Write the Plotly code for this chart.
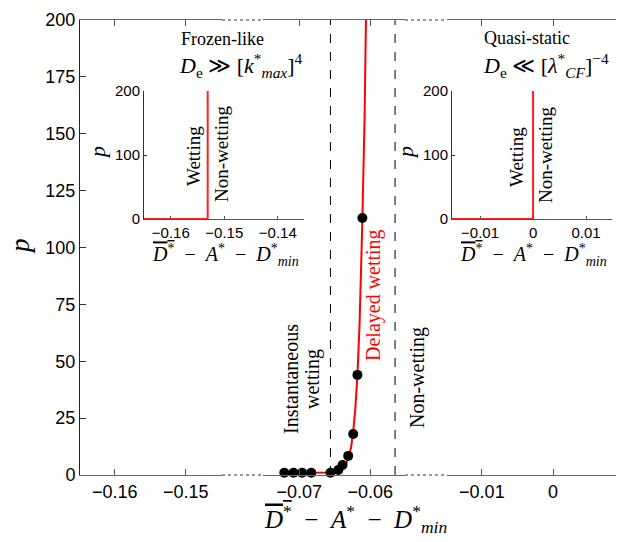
import plotly.graph_objects as go

# ---------------- data ----------------
dots_x = [-0.0721, -0.0708, -0.0696, -0.0683, -0.0656, -0.0645, -0.0639, -0.0631, -0.0624, -0.0618, -0.0611]
dots_p = [1, 1, 1, 1, 1, 2.2, 4.4, 8.4, 18, 44, 113]

curve_x = [-0.0723, -0.0700, -0.0680, -0.0660, -0.0648, -0.0642, -0.0638, -0.0635, -0.0631,
           -0.0627, -0.0624, -0.0621, -0.0618, -0.0615, -0.0611, -0.0608, -0.0606]
curve_p = [1, 1, 1, 1.1, 1.4, 1.8, 2.6, 4.2, 7.5, 12, 19, 29, 44, 66, 113, 156, 200]

boundary_instant = -0.0656
boundary_nonwet = -0.0565

frozen_x = [-0.165, -0.1531, -0.1531]
frozen_p = [0, 0, 200]
quasi_x = [-0.0153, 0.0, 0.0]
quasi_p = [0, 0, 200]

seg1_ticks = [-0.16, -0.15]
seg2_ticks = [-0.07, -0.06]
seg3_ticks = [-0.01, 0]
y_ticks = [0, 25, 50, 75, 100, 125, 150, 175, 200]
inset1_ticks = [-0.16, -0.15, -0.14]
inset2_ticks = [-0.01, 0, 0.01]
inset_y_ticks = [0, 100, 200]

# ---------------- geometry helpers (page pixel -> paper) ----------------
OFF = 8                      # default body margin of the page
L, R, T, B = 80, 622, 20, 475  # plot area in page pixels
W, H = 616, 534               # figure size


def px(x):
    return (x - L) / (R - L)


def py(y):
    return (B - y) / (B - T)


SANS = "Liberation Sans, Arial, sans-serif"
SERIF = "Liberation Serif, Times New Roman, serif"

fig = go.Figure()

# empty traces so that the outer segments are created
fig.add_trace(go.Scatter(x=[], y=[], xaxis="x", yaxis="y", showlegend=False))
fig.add_trace(go.Scatter(x=[], y=[], xaxis="x3", yaxis="y3", showlegend=False))

# main panel traces (middle segment)
fig.add_trace(go.Scatter(x=[boundary_instant, boundary_instant], y=[0, 200], mode="lines",
                         line=dict(color="black", width=1, dash="dash"), xaxis="x2", yaxis="y2",
                         showlegend=False, hoverinfo="skip"))
fig.add_trace(go.Scatter(x=[boundary_nonwet, boundary_nonwet], y=[0, 200], mode="lines",
                         line=dict(color="black", width=1, dash="dash"), xaxis="x2", yaxis="y2",
                         showlegend=False, hoverinfo="skip"))
fig.add_trace(go.Scatter(x=curve_x, y=curve_p, mode="lines", line=dict(color="#ff0000", width=2),
                         xaxis="x2", yaxis="y2", showlegend=False))
fig.add_trace(go.Scatter(x=dots_x, y=dots_p, mode="markers", marker=dict(color="black", size=10),
                         xaxis="x2", yaxis="y2", showlegend=False, cliponaxis=False))

# insets
fig.add_trace(go.Scatter(x=frozen_x, y=frozen_p, mode="lines", line=dict(color="#ff2020", width=2),
                         xaxis="x4", yaxis="y4", showlegend=False, cliponaxis=False))
fig.add_trace(go.Scatter(x=quasi_x, y=quasi_p, mode="lines", line=dict(color="#ff2020", width=2),
                         xaxis="x5", yaxis="y5", showlegend=False, cliponaxis=False))

xcommon = dict(showline=True, linecolor="#666", linewidth=1, mirror="ticks", ticks="inside",
               ticklen=6, tickcolor="#555", showgrid=False, zeroline=False,
               tickfont=dict(family=SANS, size=18, color="black"))
ycommon = dict(range=[0, 200], showgrid=False, zeroline=False, domain=[0, 1])

inset_x = dict(showline=True, linecolor="#555", linewidth=1, mirror=False, ticks="inside",
               ticklen=3, tickcolor="#555", showgrid=False, zeroline=False,
               tickfont=dict(family=SANS, size=15, color="black"))
inset_y = dict(range=[0, 200], tickvals=inset_y_ticks, showline=True, linecolor="#333", linewidth=1,
               ticks="inside", ticklen=3, tickcolor="#333", showgrid=False, zeroline=False,
               tickfont=dict(family=SANS, size=15, color="black"),
               domain=[py(219), py(91)])

fig.update_layout(
    width=W, height=H,
    margin=dict(l=L - OFF, r=W - (R - OFF), t=T - OFF, b=H - (B - OFF)),
    paper_bgcolor="white", plot_bgcolor="rgba(0,0,0,0)",
    xaxis=dict(domain=[0, px(222)], range=[-0.1649, -0.1449], tickvals=seg1_ticks, anchor="y", **xcommon),
    xaxis2=dict(domain=[px(263), px(405)], range=[-0.0751, -0.0551], tickvals=seg2_ticks, anchor="y2", **xcommon),
    xaxis3=dict(domain=[px(447), 1], range=[-0.0149, 0.0097], tickvals=seg3_ticks, anchor="y3", **xcommon),
    yaxis=dict(anchor="x", tickvals=y_ticks, showline=True, linecolor="#222", linewidth=1, ticks="inside",
               ticklen=6, tickcolor="#333", tickfont=dict(family=SANS, size=18, color="black"), **ycommon),
    yaxis2=dict(anchor="x2", visible=False, **ycommon),
    yaxis3=dict(anchor="x3", side="right", tickvals=y_ticks, showline=True, linecolor="#222", linewidth=1,
                ticks="inside", ticklen=6, tickcolor="#333", showticklabels=False, **ycommon),
    xaxis4=dict(domain=[px(144), px(304)], range=[-0.165, -0.1351], tickvals=inset1_ticks, anchor="y4", **inset_x),
    yaxis4=dict(anchor="x4", **inset_y),
    xaxis5=dict(domain=[px(452), px(612)], range=[-0.0153, 0.0149], tickvals=inset2_ticks, anchor="y5", **inset_x),
    yaxis5=dict(anchor="x5", **inset_y),
)

# broken-axis dotted marks
for x0, x1 in [(px(222), px(263)), (px(405), px(447))]:
    for yy in (0, 1):
        fig.add_shape(type="line", xref="paper", yref="paper", x0=x0, x1=x1, y0=yy, y1=yy,
                      line=dict(color="#777", width=1.5, dash="dot"))

SEP = "&nbsp;&nbsp;−&nbsp;&nbsp;"
XLAB = ('<span style="text-decoration:overline"><i>D</i><sup>*</sup></span>' + SEP +
        '<i>A</i><sup>*</sup>' + SEP + '<i>D</i><sup>*</sup><sub><i>min</i></sub>')


def ann(x, y, text, size=20, color="black", angle=0, family=SERIF):
    fig.add_annotation(x=px(x), y=py(y), xref="paper", yref="paper", text=text, showarrow=False,
                       textangle=angle, xanchor="center", yanchor="middle",
                       font=dict(family=family, size=size, color=color))


# main labels
ann(355, 519, XLAB, size=25)
ann(20, 246, "<i>p</i>", size=27, angle=-90)

# region annotations
ann(291, 379, "Instantaneous", size=20, angle=-90)
ann(312, 379, "wetting", size=20, angle=-90)
ann(373, 295, "Delayed wetting", size=20, color="#ff0000", angle=-90)
ann(417, 378, "Non-wetting", size=20, angle=-90)

# regime titles
ann(222, 39, "Frozen-like", size=18)
ann(241, 66, "<i>D</i><sub>e</sub> ≫ [<i>k</i><sup>*</sup><sub><i>max</i></sub>]<sup>4</sup>", size=22)
ann(527, 38, "Quasi-static", size=18)
ann(546, 66, "<i>D</i><sub>e</sub> ≪ [<i>λ</i><sup>*</sup><sub><i>CF</i></sub>]<sup>−4</sup>", size=22)

# inset labels
ann(98, 153, "<i>p</i>", size=22, angle=-90)
ann(225, 255, XLAB, size=20)
ann(193, 156, "Wetting", size=19, angle=-90)
ann(222, 154, "Non-wetting", size=19, angle=-90)

ann(406, 153, "<i>p</i>", size=22, angle=-90)
ann(533, 255, XLAB, size=20)
ann(516, 157, "Wetting", size=19, angle=-90)
ann(546, 155, "Non-wetting", size=19, angle=-90)

fig.write_html("out.html")
